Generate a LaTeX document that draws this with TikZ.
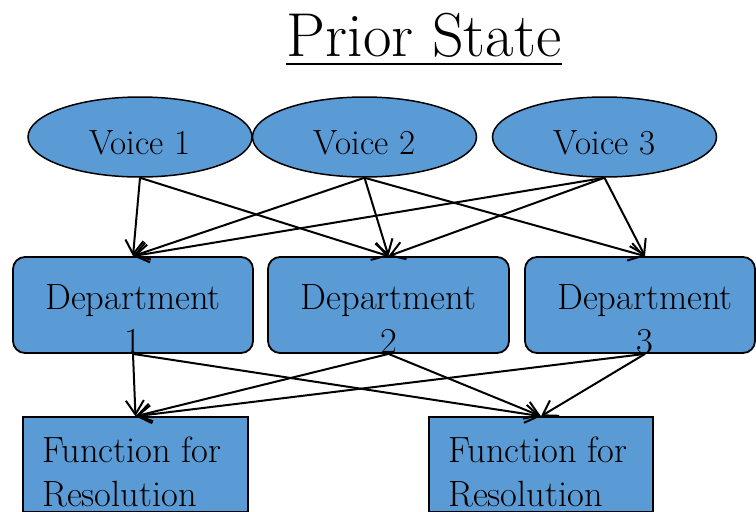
\documentclass[tikz,border=0pt]{standalone}
\usepackage{fontspec}
\newfontfamily\lmrom{Latin Modern Roman}
\usetikzlibrary{arrows.meta,shapes.geometric}
\definecolor{boxblue}{HTML}{5B9BD5}
\begin{document}
\begin{tikzpicture}[x=1pt,y=-1pt,
  voice/.style={ellipse, draw=black, line width=1.5pt, fill=boxblue, minimum width=224pt, minimum height=80pt, inner sep=0pt},
  dept/.style={rectangle, rounded corners=12pt, draw=black, line width=1.8pt, fill=boxblue, minimum height=96pt, inner sep=0pt},
  func/.style={rectangle, draw=black, line width=1.5pt, fill=boxblue, minimum width=225pt, minimum height=95pt, inner sep=0pt},
  lbl/.style={font=\fontsize{36.5}{44}\lmrom, inner sep=0pt},
  vlbl/.style={font=\fontsize{35}{42}\lmrom, inner sep=0pt, anchor=base},
  link/.style={line width=2pt, -{Straight Barb[length=14pt,width=18pt]}},
]
\useasboundingbox (0,0) rectangle (756,512);

% title
\node[anchor=base, inner sep=0pt, font=\fontsize{62}{70}\lmrom] (title) at (424,56) {Prior State};
\draw[line width=2.5pt] ([yshift=-8pt]title.base west) -- ([yshift=-8pt]title.base east);

% voices
\node[voice] (v1) at (140,137) {};
\node[voice] (v2) at (364.5,137) {};
\node[voice] (v3) at (604.5,137) {};
\node[vlbl] (v1t) at (140,154) {Voice 1};
\node[vlbl] (v2t) at (364.5,154) {Voice 2};
\node[vlbl] (v3t) at (604.5,154) {Voice 3};

% departments
\node[dept, minimum width=240pt] (d1) at (133,305) {};
\node[dept, minimum width=241pt] (d2) at (388.5,305) {};
\node[dept, minimum width=230pt] (d3) at (640,305) {};
\node[lbl, align=center, anchor=north] (d1t) at (133,284) {Department\\1};
\node[lbl, align=center, anchor=north] (d2t) at (388.5,284) {Department\\2};
\node[lbl, align=center, anchor=north] (d3t) at (645,284) {Department\\3};

% functions
\node[func] (f1) at (135.5,464.5) {};
\node[func, minimum width=224pt] (f2) at (541,464.5) {};
\node[lbl, align=left, anchor=north west] (f1t) at (42,437) {Function for\\Resolution};
\node[lbl, align=left, anchor=north west] (f2t) at (448,437) {Function for\\Resolution};

% voice -> department
\draw[link] (v1.south) -- (d1.north);
\draw[link] (v1.south) -- (d2.north);
\draw[link] (v2.south) -- (d1.north);
\draw[link] (v2.south) -- (d2.north);
\draw[link] (v2.south) -- ([xshift=5pt]d3.north);
\draw[link] (v3.south) -- (d1.north);
\draw[link] (v3.south) -- (d2.north);
\draw[link] (v3.south) -- ([xshift=5pt]d3.north);

% department -> function
\draw[link] (d1.south) -- (f1.north);
\draw[link] (d1.south) -- (f2.north);
\draw[link] (d2.south) -- (f1.north);
\draw[link] (d2.south) -- (f2.north);
\draw[link] ([xshift=5pt]d3.south) -- (f1.north);
\draw[link] ([xshift=5pt]d3.south) -- (f2.north);
\end{tikzpicture}
\end{document}
